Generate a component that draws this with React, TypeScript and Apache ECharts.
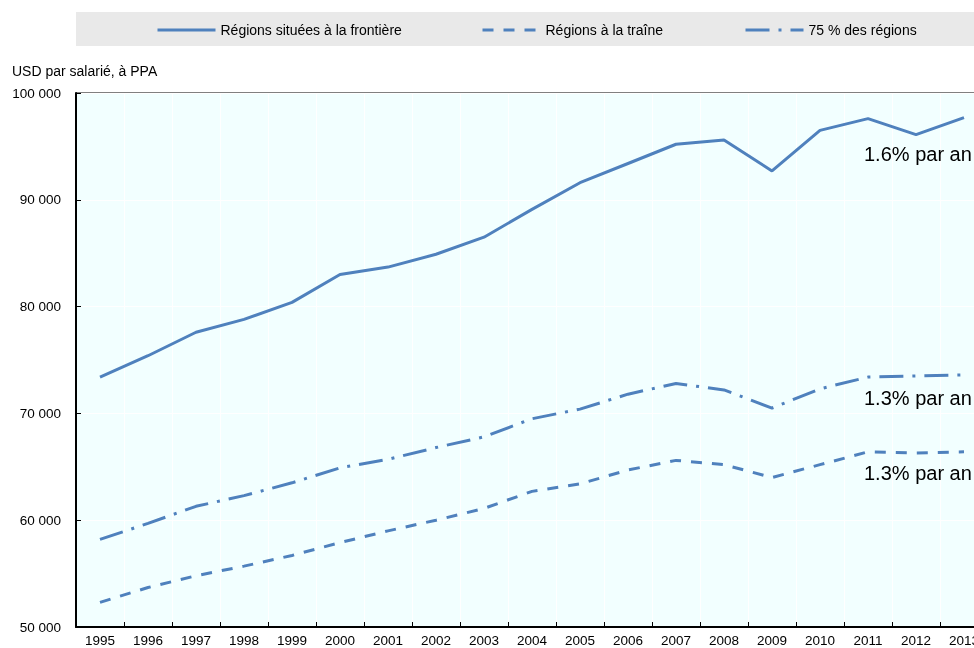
import React, { useEffect, useRef } from "react";
import * as echarts from "echarts";

const years = ["1995","1996","1997","1998","1999","2000","2001","2002","2003","2004","2005","2006","2007","2008","2009","2010","2011","2012","2013"];
const frontier = [73400,75400,77600,78800,80400,83000,83700,84900,86500,89100,91600,93400,95200,95600,92700,96500,97600,96100,97700];
const lagging = [52300,53700,54800,55700,56700,57900,59000,60000,61100,62700,63400,64700,65600,65200,64000,65200,66400,66300,66400];
const pct75 = [58200,59700,61300,62300,63500,64900,65700,66800,67800,69500,70400,71800,72800,72200,70500,72300,73400,73500,73600];
const seriesNames = ["Régions situées à la frontière", "Régions à la traîne", "75 % des régions"];
const annotations = ["1.6% par an", "1.3% par an", "1.3% par an"];

const COLOR = "#4F81BD";
const FONT = "Liberation Sans, Arial, sans-serif";

export default function App() {
  const ref = useRef<HTMLDivElement>(null);
  useEffect(() => {
    document.body.style.margin = "0";
    document.body.style.overflow = "hidden";
    const chart = echarts.init(ref.current!, undefined, { renderer: "svg" });
    const legendBase = {
      itemWidth: 58,
      itemHeight: 14,
      itemGap: 0,
      padding: 0,
      top: 23,
      itemStyle: { opacity: 0 },
      lineStyle: { width: 3 },
      textStyle: { fontSize: 14, color: "#000", fontFamily: FONT },
      selectedMode: false,
    };
    const annStyle = { fontSize: 20, fill: "#000", fontFamily: FONT, verticalAlign: "middle" };
    chart.setOption({
      animation: false,
      textStyle: { fontFamily: FONT },
      graphic: [
        { type: "rect", shape: { x: 76, y: 12, width: 940, height: 34 }, style: { fill: "#E9E9E9" }, z: -1 },
        { type: "text", x: 12, y: 64, style: { text: "USD par salarié, à PPA", fontSize: 14, fill: "#000", fontFamily: FONT } },
        { type: "text", x: 864, y: 154, z: 100, style: { text: annotations[0], ...annStyle } },
        { type: "text", x: 864, y: 398, z: 100, style: { text: annotations[1], ...annStyle } },
        { type: "text", x: 864, y: 473, z: 100, style: { text: annotations[2], ...annStyle } },
      ],
      legend: [
        { ...legendBase, left: 156, data: [seriesNames[0]] },
        { ...legendBase, left: 481, data: [seriesNames[1]] },
        { ...legendBase, left: 744, data: [seriesNames[2]] },
      ],
      grid: {
        left: 76, top: 93, width: 912, height: 534,
        show: true, backgroundColor: "#F2FFFF", borderColor: "#000", borderWidth: 1,
      },
      xAxis: {
        type: "category",
        data: years,
        boundaryGap: true,
        axisLine: { lineStyle: { color: "#000", width: 2 } },
        axisTick: { show: true, inside: true, length: 5, interval: 0, lineStyle: { color: "#000", width: 1 } },
        axisLabel: { interval: 0, color: "#000", fontSize: 13.5, margin: 6 },
        splitLine: { show: true, interval: 0, lineStyle: { color: "#FFFFFF", width: 1 } },
      },
      yAxis: {
        type: "value",
        min: 50000, max: 100000, interval: 10000,
        axisLine: { show: true, lineStyle: { color: "#000", width: 2 } },
        axisTick: { show: true, inside: true, length: 5, lineStyle: { color: "#000", width: 1 } },
        axisLabel: {
          color: "#000", fontSize: 13.5, margin: 15,
          formatter: (v: number) => String(v).replace(/\B(?=(\d{3})+(?!\d))/g, " "),
        },
        splitLine: { show: true, lineStyle: { color: "#FFFFFF", width: 1 } },
      },
      series: [
        { name: seriesNames[0], type: "line", data: frontier, symbol: "none", lineStyle: { color: COLOR, width: 3, type: "solid" }, itemStyle: { color: COLOR } },
        { name: seriesNames[1], type: "line", data: lagging, symbol: "none", lineStyle: { color: COLOR, width: 3, type: [11, 10] }, itemStyle: { color: COLOR } },
        { name: seriesNames[2], type: "line", data: pct75, symbol: "none", lineStyle: { color: COLOR, width: 3, type: [24, 9, 3, 9] }, itemStyle: { color: COLOR } },
      ],
    });
    return () => chart.dispose();
  }, []);
  return (
    <div style={{ position: "fixed", left: 0, top: 0, width: 974, height: 648, overflow: "hidden" }}>
      <div ref={ref} style={{ width: 1000, height: 648 }} />
    </div>
  );
}
